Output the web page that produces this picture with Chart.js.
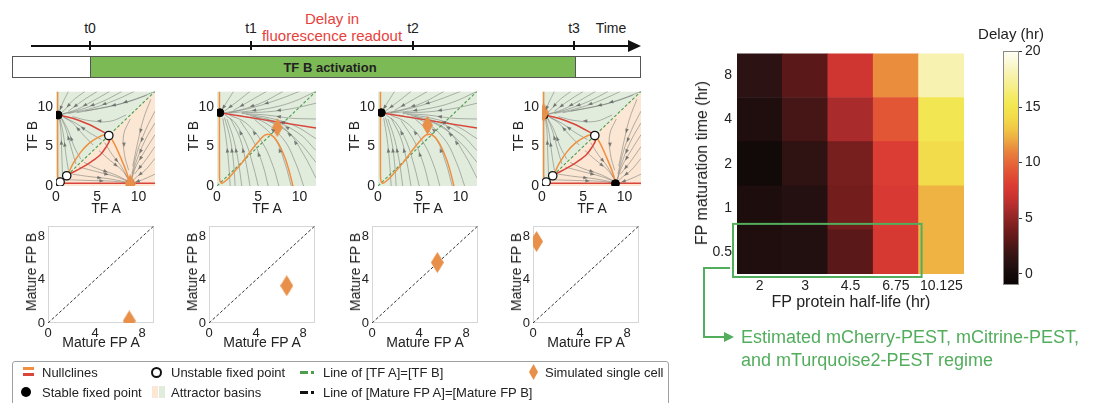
<!DOCTYPE html>
<html><head><meta charset="utf-8">
<script src="https://cdn.jsdelivr.net/npm/chart.js@4.4.1/dist/chart.umd.min.js"></script>
<style>
html,body{margin:0;padding:0;background:#fff;}
#root{position:relative;width:1094px;height:403px;overflow:hidden;background:#fff;font-family:'Liberation Sans',Arial,sans-serif;color:#222;}
.t{position:absolute;white-space:nowrap;line-height:1;transform:translate(-50%,-50%);}
.r{transform:translate(-50%,-50%) rotate(-90deg);}
.box{position:absolute;}
canvas{position:absolute;}
.lg{position:absolute;white-space:nowrap;line-height:1;font-family:'Liberation Sans',Arial,sans-serif;font-size:13px;color:#222;transform:translateY(-50%);}
</style></head><body><div id="root"></div>
<script>
// ---------------- DATA ----------------
const halfLives = ['2','3','4.5','6.75','10.125'];
const maturationTimes = ['0.5','1','2','4','8'];      // bottom -> top
const delayMat05 = [0.6, 0.7, 3.0, 7.6, 12.4];
const delayMat1  = [0.4, 0.8, 4.0, 7.8, 12.4];
const delayMat2  = [-0.3, 1.3, 4.1, 8.0, 14.2];
const delayMat4  = [0.6, 2.3, 5.8, 9.2, 15.2];
const delayMat8  = [1.2, 3.0, 7.2, 11.3, 18.0];
const delayRows = [delayMat05, delayMat1, delayMat2, delayMat4, delayMat8];
const colorbarTicks = [0, 5, 10, 15, 20];
const delayColorStops = [
  [-1,'#0b0505'],[0,'#150a0a'],[1,'#281111'],[2,'#3e1515'],[3,'#5a1818'],[4,'#741d1d'],
  [5,'#902525'],[6,'#b02c2c'],[7,'#cc3431'],[8,'#db3c33'],[9,'#e15034'],[10,'#e66739'],
  [11,'#e9833c'],[12,'#eda742'],[13,'#f1c645'],[14,'#f3da4a'],[15,'#f2e64e'],[16,'#f4eb68'],
  [17,'#f6ef90'],[18,'#f8f2b0'],[19,'#fbf8d6'],[20,'#fffff6']
];

const timepoints = ['t0','t1','t2','t3'];
const phaseTicks = [0, 5, 10];
const scatterTicks = [0, 4, 8];

// Phase portraits, bistable (t0, t3)
const orangeBistable = [{x:0.2,y:12},{x:0.2,y:2},{x:0.25,y:0.8},{x:0.5,y:0.5},{x:1.3,y:1.3},{x:2.1,y:2.9},{x:3.0,y:4.3},{x:4.0,y:5.4},{x:5.0,y:6.1},{x:5.9,y:6.5},{x:6.4,y:6.4},{x:7.0,y:5.5},{x:7.8,y:3.7},{x:8.5,y:1.9},{x:8.9,y:0.5},{x:9.0,y:0}];
const redBistable = [{x:12,y:0.35},{x:2,y:0.35},{x:0.8,y:0.35},{x:0.5,y:0.5},{x:1.3,y:1.3},{x:2.9,y:2.2},{x:4.3,y:3.1},{x:5.4,y:4.0},{x:6.1,y:5.0},{x:6.5,y:5.8},{x:6.4,y:6.4},{x:5.5,y:7.0},{x:3.8,y:7.9},{x:2.0,y:8.6},{x:0.25,y:9.0}];
// Phase portraits, monostable (t1, t2)
const orangeMono = [{x:0.3,y:12},{x:0.3,y:2},{x:0.35,y:0.7},{x:0.6,y:0.35},{x:1.2,y:0.8},{x:2.0,y:1.7},{x:3.0,y:2.9},{x:4.0,y:4.3},{x:5.0,y:5.6},{x:5.9,y:6.5},{x:6.8,y:6.3},{x:7.6,y:5.1},{x:8.3,y:3.4},{x:8.8,y:1.7},{x:9.2,y:0}];
const redMono = [{x:0.3,y:9.3},{x:12,y:7.35}];
const equalLine = [{x:0,y:0},{x:12,y:12}];
const matureEqualLine = [{x:0,y:0},{x:9,y:9}];

const stableT0 = [{x:0.25,y:9.0},{x:9.0,y:0.3}];
const unstableT0 = [{x:6.4,y:6.4},{x:1.3,y:1.3},{x:0.5,y:0.5}];
const cellT0 = [{x:9.0,y:0.3}];
const stableT1 = [{x:0.35,y:9.3}];
const cellT1 = [{x:7.3,y:7.4}];
const stableT2 = [{x:0.4,y:9.3}];
const cellT2 = [{x:6.0,y:7.7}];
const stableT3 = [{x:0.25,y:9.0},{x:8.9,y:0.3}];
const unstableT3 = [{x:6.4,y:6.4},{x:1.3,y:1.3},{x:0.5,y:0.5}];
const cellT3 = [{x:0.2,y:9.3}];

// Mature fluorescent protein readouts
const matureT0 = [{x:6.9,y:0.2}];
const matureT1 = [{x:6.6,y:3.45}];
const matureT2 = [{x:5.55,y:5.6}];
const matureT3 = [{x:0.3,y:7.55}];

// Streamlines
const streamsBistable = [
  [[1.5,12],[0.8,10.5],[0.35,9.3]],
  [[3.5,12],[2,10.8],[1,9.6],[0.4,9.1]],
  [[5,12],[3.2,10.8],[1.5,9.5]],
  [[6.5,12],[4.5,10.8],[2.5,9.7],[0.6,9.1]],
  [[8,12],[5.8,10.8],[3,9.7],[0.8,9.1]],
  [[9.5,12],[7.2,10.9],[4.5,9.9],[1.5,9.2]],
  [[11,11.5],[8.5,10.6],[5.5,9.9],[2.5,9.3]],
  [[12,12],[9.8,11.1],[7,10.2],[3.5,9.5]],
  [[8.5,9.0],[6.5,8.2],[4,8.3],[2,8.8]],
  [[5.5,5.9],[4,6.8],[2.5,7.9],[1,8.7]],
  [[4.5,5.2],[3.3,6.5],[2,8],[0.8,8.8]],
  [[3,3.4],[2.2,5],[1.5,7],[0.7,8.6]],
  [[2.4,2.8],[1.8,5],[1.2,7.2],[0.6,8.7]],
  [[1.5,2],[1.2,4],[0.9,6.5],[0.5,8.5]],
  [[0.8,1.2],[0.7,4],[0.6,7],[0.4,8.6]],
  [[12,1.5],[10.5,0.8],[9.3,0.35]],
  [[12,3.5],[10.8,2],[9.6,1],[9.1,0.4]],
  [[12,5],[10.8,3.2],[9.5,1.5]],
  [[12,6.5],[10.8,4.5],[9.7,2.5],[9.1,0.6]],
  [[12,8],[10.8,5.8],[9.7,3],[9.1,0.8]],
  [[12,9.5],[10.9,7.2],[9.9,4.5],[9.2,1.5]],
  [[11.5,11],[10.6,8.5],[9.9,5.5],[9.3,2.5]],
  [[9.0,8.5],[8.2,6.5],[8.3,4],[8.8,2]],
  [[5.9,5.5],[6.8,4],[7.9,2.5],[8.7,1]],
  [[5.2,4.5],[6.5,3.3],[8,2],[8.8,0.8]],
  [[3.4,3],[5,2.2],[7,1.5],[8.6,0.7]],
  [[2.8,2.4],[5,1.8],[7.2,1.2],[8.7,0.6]],
  [[2,1.5],[4,1.2],[6.5,0.9],[8.5,0.5]],
  [[1.2,0.8],[4,0.7],[7,0.6],[8.6,0.4]]
];
const streamsMono = [
  [[2,12],[1.1,10.5],[0.5,9.5]],
  [[4,12],[2.3,10.6],[0.9,9.5]],
  [[6,12],[4,10.8],[2,9.6]],
  [[8,12],[5.5,10.6],[3,9.7],[1,9.3]],
  [[10,12],[7.5,11],[4.5,10],[1.5,9.3]],
  [[12,12],[9,10.6],[6,9.8],[3,9.4],[0.8,9.2]],
  [[12,10.5],[9,9.8],[6,9.4],[3,9.3]],
  [[12,8.5],[9,8.6],[6,9.0],[3,9.2]],
  [[12,6],[9.5,7.6],[6.5,8.6],[3.5,9.1]],
  [[12,4.5],[10,6.6],[7,8.2],[4,8.9]],
  [[12,3],[10,5.5],[7.5,7.6],[4.5,8.8]],
  [[12,1],[10.5,4],[8.5,7],[6,8.5]],
  [[10.5,0],[9.5,3],[8,6],[5.5,8.2],[2.5,9]],
  [[9,0],[8.2,3],[7,6],[4.5,8.5]],
  [[7.5,0],[6.8,2.5],[5.5,5.5],[3.5,8],[1.5,9]],
  [[6.2,0],[5.6,2.5],[4.5,5.5],[2.8,8.3]],
  [[5,0],[4.4,2.5],[3.5,5.5],[2.2,8],[1,9]],
  [[4,0],[3.5,3],[2.8,6],[1.6,8.6]],
  [[3,0],[2.6,3],[2,6],[1.2,8.5]],
  [[2.2,0],[2,3],[1.6,6],[0.9,8.7]],
  [[1.6,0],[1.4,3],[1.1,6],[0.7,8.6]]
];

// ---------------- STYLE ----------------
const ORANGE = '#ef8f3f', RED = '#d9453a', DIAMOND = '#e8904a', GREENLINE = '#4d9d4d', REGIME = '#52ad5c';
const BASIN_GREEN = '#e2ecdd', BASIN_PEACH = '#fbe7d4', STREAM = 'rgba(105,108,105,0.55)';
Chart.defaults.font.family = "'Liberation Sans', Arial, sans-serif";
Chart.defaults.color = '#222';
Chart.defaults.animation = false;

const root = document.getElementById('root');
function txt(s, x, y, size, extra) {
  extra = extra || {};
  const d = document.createElement('div');
  d.className = 't' + (extra.rot ? ' r' : '');
  d.textContent = s;
  d.style.left = x + 'px'; d.style.top = y + 'px'; d.style.fontSize = size + 'px';
  if (extra.color) d.style.color = extra.color;
  if (extra.bold) d.style.fontWeight = 'bold';
  if (extra.leftAlign) d.style.transform = 'translate(0,-50%)';
  root.appendChild(d); return d;
}
function rect(l, t, w, h, css) {
  const d = document.createElement('div'); d.className = 'box';
  Object.assign(d.style, {left:l+'px', top:t+'px', width:w+'px', height:h+'px'}, css || {});
  root.appendChild(d); return d;
}
function mkCanvas(l, t, w, h) {
  const c = document.createElement('canvas');
  c.width = w; c.height = h; c.style.left = l + 'px'; c.style.top = t + 'px';
  c.style.width = w + 'px'; c.style.height = h + 'px';
  root.appendChild(c); return c;
}
function diamondImg(w, h) {
  const c = document.createElement('canvas'); c.width = w; c.height = h;
  const g = c.getContext('2d'); g.fillStyle = DIAMOND;
  g.beginPath(); g.moveTo(w/2, 0); g.lineTo(w, h/2); g.lineTo(w/2, h); g.lineTo(0, h/2); g.closePath(); g.fill();
  return c;
}
const diamondSmall = diamondImg(11, 19);
const diamondBig = diamondImg(13, 21);

function hexToRgb(h){ return [parseInt(h.slice(1,3),16), parseInt(h.slice(3,5),16), parseInt(h.slice(5,7),16)]; }
function delayColor(v) {
  const s = delayColorStops;
  if (v <= s[0][0]) return s[0][1];
  for (let i = 1; i < s.length; i++) {
    if (v <= s[i][0]) {
      const t = (v - s[i-1][0]) / (s[i][0] - s[i-1][0]);
      const a = hexToRgb(s[i-1][1]), b = hexToRgb(s[i][1]);
      return 'rgb(' + a.map((c, k) => Math.round(c + (b[k]-c)*t)).join(',') + ')';
    }
  }
  return s[s.length-1][1];
}

// ---------------- TIMELINE (schematic) ----------------
const tX = [90, 251, 413, 574];
txt('Delay in', 332, 18, 15, {color:'#e8413c'});
txt('fluorescence readout', 332, 35, 15, {color:'#e8413c'});
timepoints.forEach((t, i) => txt(t, tX[i], 28, 14));
txt('Time', 611, 28, 14);
rect(31, 45, 600, 2, {background:'#111'});
rect(628, 40, 0, 0, {borderTop:'6px solid transparent', borderBottom:'6px solid transparent', borderLeft:'13px solid #111'});
tX.forEach(x => rect(x-1, 41, 2, 9, {background:'#111'}));
rect(12, 56, 627, 20, {border:'1px solid #555', background:'#fff'});
rect(tX[0], 57, tX[3]-tX[0], 20, {background:'#7cba56', borderLeft:'1px solid #555', borderRight:'1px solid #555'});
txt('TF B activation', 330, 67, 13, {bold:true});

// ---------------- PLUGINS ----------------
const basinPlugin = {
  id: 'basins',
  beforeDatasetsDraw(chart, args, o) {
    const {ctx, chartArea:a, scales:{x, y}} = chart;
    ctx.save();
    ctx.beginPath(); ctx.rect(a.left, a.top, a.width, a.height); ctx.clip();
    ctx.fillStyle = BASIN_GREEN; ctx.fillRect(a.left, a.top, a.width, a.height);
    if (o.split) {
      ctx.fillStyle = BASIN_PEACH; ctx.beginPath();
      ctx.moveTo(x.getPixelForValue(x.min), y.getPixelForValue(y.min));
      ctx.lineTo(x.getPixelForValue(x.max), y.getPixelForValue(y.max));
      ctx.lineTo(x.getPixelForValue(x.max), y.getPixelForValue(y.min));
      ctx.closePath(); ctx.fill();
    }
    ctx.restore();
  },
  afterDatasetsDraw(chart) {
    // small arrowheads in the middle of each streamline
    const {ctx, chartArea:a} = chart;
    ctx.save();
    ctx.beginPath(); ctx.rect(a.left, a.top, a.width, a.height); ctx.clip();
    ctx.fillStyle = 'rgba(95,98,95,0.8)';
    chart.data.datasets.forEach((ds, i) => {
      if (!ds.stream) return;
      const pts = chart.getDatasetMeta(i).data;
      const k = Math.floor((pts.length - 1) / 2);
      const p0 = pts[k], p1 = pts[k+1];
      const mx = (p0.x + p1.x) / 2, my = (p0.y + p1.y) / 2;
      const ang = Math.atan2(p1.y - p0.y, p1.x - p0.x);
      ctx.save(); ctx.translate(mx, my); ctx.rotate(ang);
      ctx.beginPath(); ctx.moveTo(2.5, 0); ctx.lineTo(-2, -1.8); ctx.lineTo(-2, 1.8); ctx.closePath(); ctx.fill();
      ctx.restore();
    });
    ctx.restore();
  }
};
const framePlugin = {
  id: 'frame',
  beforeDatasetsDraw(chart) {
    const {ctx, chartArea:a} = chart;
    ctx.save(); ctx.strokeStyle = '#d6d6d6'; ctx.lineWidth = 1;
    ctx.strokeRect(Math.round(a.left)+0.5, Math.round(a.top)+0.5, Math.round(a.width)-1, Math.round(a.height)-1);
    ctx.restore();
  }
};

function fixedScale(min, max, ticks, w, h, fs) {
  const base = (side) => ({type:'linear', min, max,
    afterBuildTicks: s => { s.ticks = ticks.map(v => ({value:v})); },
    grid:{display:false, drawTicks:false}, border:{display:false},
    ticks:{font:{size:fs}, padding:3, color:'#222', maxRotation:0, autoSkip:false}});
  const x = base('x'); x.afterFit = s => { s.height = h; };
  const y = base('y'); y.afterFit = s => { s.width = w; };
  return {x, y};
}
function lineDs(data, color, width, order, dash) {
  return {data, showLine:true, borderColor:color, borderWidth:width, pointRadius:0, tension:0.35, order, borderDash:dash || [], fill:false};
}

// ---------------- PHASE PORTRAITS ----------------
const phaseLeft = [56, 217, 378, 542];
const phaseSpecs = [
  {split:true, orange:orangeBistable, red:redBistable, streams:streamsBistable, stable:stableT0, unstable:unstableT0, cell:cellT0},
  {split:false, orange:orangeMono, red:redMono, streams:streamsMono, stable:stableT1, unstable:[], cell:cellT1},
  {split:false, orange:orangeMono, red:redMono, streams:streamsMono, stable:stableT2, unstable:[], cell:cellT2},
  {split:true, orange:orangeBistable, red:redBistable, streams:streamsBistable, stable:stableT3, unstable:unstableT3, cell:cellT3}
];
phaseSpecs.forEach((p, i) => {
  const L = phaseLeft[i];
  const cv = mkCanvas(L - 30, 80, 137, 126);
  const ds = [];
  p.streams.forEach(s => ds.push({stream:true, data:s.map(q => ({x:q[0], y:q[1]})), showLine:true, borderColor:STREAM, borderWidth:0.9, pointRadius:0, tension:0.4, order:20}));
  ds.push(lineDs(equalLine, GREENLINE, 1.1, 9, [3,2]));
  ds.push(lineDs(p.orange, ORANGE, 1.5, 6));
  ds.push(lineDs(p.red, RED, 1.5, 5));
  ds.push({data:p.stable, pointRadius:4, pointBackgroundColor:'#000', pointBorderColor:'#000', pointBorderWidth:1, showLine:false, order:3});
  ds.push({data:p.unstable, pointRadius:4.2, pointBackgroundColor:'#fff', pointBorderColor:'#111', pointBorderWidth:1.3, showLine:false, order:2});
  ds.push({data:p.cell, pointStyle:diamondSmall, showLine:false, order:1});
  new Chart(cv, {
    type:'scatter', data:{datasets:ds}, plugins:[basinPlugin],
    options:{responsive:false, devicePixelRatio:1, layout:{padding:{top:6, right:8, bottom:0, left:0}},
      plugins:{legend:{display:false}, tooltip:{enabled:false}, basins:{split:p.split}},
      scales: fixedScale(0, 12, phaseTicks, 30, 20, 14)}
  });
  txt('TF B', L - 24, 136, 14, {rot:true});
  txt('TF A', L + 50, 208, 14);
});

// ---------------- MATURE FP SCATTERS ----------------
const scatterLeft = [48, 209, 372, 533];
const matureSets = [matureT0, matureT1, matureT2, matureT3];
matureSets.forEach((m, i) => {
  const L = scatterLeft[i];
  const cv = mkCanvas(L - 30, 215, 144, 128);
  new Chart(cv, {
    type:'scatter',
    data:{datasets:[
      lineDs(matureEqualLine, '#333', 1, 5, [3,2]),
      {data:m, pointStyle:diamondBig, showLine:false, order:1}
    ]},
    plugins:[framePlugin],
    options:{responsive:false, devicePixelRatio:1, layout:{padding:{top:6, right:8, bottom:0, left:0}},
      plugins:{legend:{display:false}, tooltip:{enabled:false}},
      scales: fixedScale(0, 9, scatterTicks, 30, 20, 13)}
  });
  txt('Mature FP B', L - 17, 272, 14, {rot:true});
  txt('Mature FP A', L + 53, 342, 14);
});

// ---------------- LEGEND ----------------
rect(12, 361, 655, 60, {border:'1px solid #a0a0a0', borderRadius:'3px', background:'#fff'});
const r1 = 372, r2 = 392;
function lg(s, x, y){ const d=document.createElement('div'); d.className='lg'; d.textContent=s; d.style.left=x+'px'; d.style.top=y+'px'; root.appendChild(d); }
rect(23, r1-5, 11, 3, {background:ORANGE});
rect(23, r1+1, 11, 3, {background:RED});
lg('Nullclines', 42, r1);
rect(151, r1-5, 7, 7, {border:'2px solid #111', borderRadius:'50%', background:'#fff'});
lg('Unstable fixed point', 171, r1);
rect(300, r1-1, 8, 3, {background:GREENLINE});
rect(311, r1-1, 3, 3, {background:GREENLINE});
lg('Line of [TF A]=[TF B]', 323, r1);
rect(529, r1-8, 9, 16, {background:DIAMOND, clipPath:'polygon(50% 0,100% 50%,50% 100%,0 50%)'});
lg('Simulated single cell', 545, r1);
rect(21, r2-5, 10, 10, {background:'#000', borderRadius:'50%'});
lg('Stable fixed point', 42, r2);
rect(152, r2-6, 6, 12, {background:BASIN_PEACH});
rect(159, r2-6, 6, 12, {background:BASIN_GREEN});
lg('Attractor basins', 171, r2);
rect(300, r2-1, 8, 3, {background:'#111'});
rect(311, r2-1, 3, 3, {background:'#111'});
lg('Line of [Mature FP A]=[Mature FP B]', 323, r2);

// ---------------- HEATMAP ----------------
const regionPlugin = {
  id: 'regime',
  afterDraw(chart) {
    const {ctx, chartArea:a, scales:{y}} = chart;
    const colW = a.width / halfLives.length;
    const left = a.left - 4, right = a.left + 4*colW + 3;
    const top = y.getPixelForValue(1) - 6, bottom = y.getPixelForValue(0) + 3;
    ctx.save(); ctx.strokeStyle = REGIME; ctx.lineWidth = 2;
    ctx.strokeRect(left, top, right-left, bottom-top);
    const vx = a.left - 33, yStub = bottom - 9, yEnd = a.bottom + 63;
    ctx.beginPath(); ctx.moveTo(left - 3, yStub); ctx.lineTo(vx, yStub); ctx.lineTo(vx, yEnd); ctx.lineTo(left - 6, yEnd); ctx.stroke();
    ctx.fillStyle = REGIME; ctx.beginPath();
    ctx.moveTo(left + 1, yEnd); ctx.lineTo(left - 9, yEnd - 5); ctx.lineTo(left - 9, yEnd + 5); ctx.closePath(); ctx.fill();
    ctx.restore();
  }
};
const hmCanvas = mkCanvas(680, 40, 310, 310);
new Chart(hmCanvas, {
  type:'bar',
  data:{labels:halfLives, datasets: delayRows.map((row, i) => ({
    label: maturationTimes[i], data: row.map(() => [i, i+1]),
    backgroundColor: row.map(delayColor), borderWidth:0, grouped:false,
    barPercentage:1, categoryPercentage:1
  }))},
  plugins:[regionPlugin],
  options:{responsive:false, devicePixelRatio:1, layout:{padding:{top:12, right:26, bottom:46, left:0}},
    plugins:{legend:{display:false}, tooltip:{enabled:false}},
    scales:{
      x:{type:'category', offset:true, grid:{display:false, drawTicks:false}, border:{display:false},
         afterFit: s => { s.height = 30; }, ticks:{font:{size:14}, padding:4, color:'#222', maxRotation:0, autoSkip:false}},
      y:{type:'linear', min:0, max:maturationTimes.length, grid:{display:false, drawTicks:false}, border:{display:false},
         afterBuildTicks: s => { s.ticks = maturationTimes.map((m, i) => ({value:i+0.5})); },
         afterFit: s => { s.width = 57; },
         ticks:{font:{size:14}, padding:5, color:'#222', autoSkip:false, callback:(v, i) => maturationTimes[i]}}
    }}
});
txt('FP maturation time (hr)', 702, 163, 16, {rot:true});
txt('FP protein half-life (hr)', 851, 302, 16);
txt('Estimated mCherry-PEST, mCitrine-PEST,', 741, 337, 18, {color:REGIME, leftAlign:true});
txt('and mTurquoise2-PEST regime', 741, 360, 18, {color:REGIME, leftAlign:true});

// ---------------- COLORBAR ----------------
const gradPlugin = {
  id: 'grad',
  beforeDatasetsDraw(chart) {
    const {ctx, chartArea:a, scales:{y}} = chart;
    const y0 = y.getPixelForValue(y.min), y1 = y.getPixelForValue(y.max);
    const g = ctx.createLinearGradient(0, y0, 0, y1);
    delayColorStops.forEach(s => g.addColorStop((s[0]-y.min)/(y.max-y.min), s[1]));
    ctx.save(); ctx.fillStyle = g; ctx.fillRect(a.left, a.top, a.width, a.height);
    ctx.strokeStyle = '#8a8a8a'; ctx.lineWidth = 1;
    ctx.strokeRect(Math.round(a.left)+0.5, Math.round(a.top)+0.5, Math.round(a.width)-1, Math.round(a.height)-1);
    ctx.restore();
  }
};
const cbCanvas = mkCanvas(990, 40, 104, 260);
new Chart(cbCanvas, {
  type:'scatter', data:{datasets:[{data:[]}]}, plugins:[gradPlugin],
  options:{responsive:false, devicePixelRatio:1, layout:{padding:{top:11, right:0, bottom:15, left:13}},
    plugins:{legend:{display:false}, tooltip:{enabled:false}},
    scales:{
      x:{display:false, min:0, max:1},
      y:{position:'right', min:delayColorStops[0][0], max:delayColorStops[delayColorStops.length-1][0],
         afterBuildTicks: s => { s.ticks = colorbarTicks.map(v => ({value:v})); },
         afterFit: s => { s.width = 75; },
         grid:{display:true, drawOnChartArea:false, drawTicks:true, tickLength:3, color:'#333'}, border:{display:false},
         ticks:{font:{size:14}, padding:3, color:'#222', autoSkip:false}}
    }}
});
txt('Delay (hr)', 1011, 33, 15);
</script></body></html>
